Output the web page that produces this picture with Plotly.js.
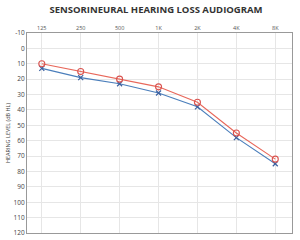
<!DOCTYPE html>
<html><head><meta charset="utf-8">
<script src="https://cdn.plot.ly/plotly-3.0.1.min.js"></script>
<style>html,body{margin:0;padding:0;background:#fff}#c{width:300px;height:240px}</style>
</head><body><div id="c"></div>
<script>
var freqs = ["125","250","500","1K","2K","4K","8K"];
var rightEar = [10,15,20,25,35,55,72];
var leftEar = [13,19,23,29,38,58,75];
var yTicks = [-10,0,10,20,30,40,50,60,70,80,90,100,110,120];

var traces = [
 {x: freqs, y: leftEar, type:'scatter', mode:'lines+markers', name:'Left',
  line:{color:'#4a7ebb', width:1.1}, marker:{symbol:'x-thin-open', size:5, color:'#3a5f9f', line:{width:1.2, color:'#3a5f9f'}}},
 {x: freqs, y: rightEar, type:'scatter', mode:'lines+markers', name:'Right',
  line:{color:'#e8675a', width:1.1}, marker:{symbol:'circle-open', size:6, color:'#d9534f', line:{width:1.1}}}
];
var layout = {
 width:300, height:240, margin:{l:27,r:8,t:33,b:7}, showlegend:false,
 paper_bgcolor:'#fff', plot_bgcolor:'#fff',
 title:{text:'<b>SENSORINEURAL HEARING LOSS AUDIOGRAM</b>', font:{family:'Open Sans', size:9.5, color:'#333'}, x:0.52, xanchor:'center', y:0.96, yanchor:'middle'},
 xaxis:{type:'category', side:'top', range:[-0.38,6.43], showgrid:true, gridcolor:'#e6e6e6', gridwidth:1,
  tickfont:{family:'Open Sans', size:5.5, color:'#555'}, ticks:'', showline:true, linecolor:'#999', mirror:true, zeroline:false, fixedrange:true},
 yaxis:{range:[120,-10], tickvals:yTicks, ticktext:yTicks.map(String), showgrid:true, gridcolor:'#e6e6e6', gridwidth:1,
  tickfont:{family:'Open Sans', size:6.5, color:'#444'}, ticks:'', showline:true, linecolor:'#999', mirror:true, zeroline:false,
  title:{text:'HEARING LEVEL (dB HL)', font:{family:'Open Sans', size:5.5, color:'#444'}, standoff:2}}
};
Plotly.newPlot('c', traces, layout, {staticPlot:true, displayModeBar:false});
</script></body></html>
